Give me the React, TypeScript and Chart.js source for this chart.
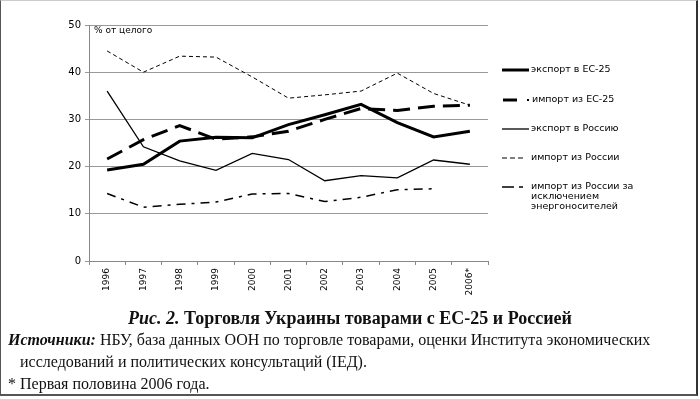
import React, { useEffect, useRef } from "react";
import { Chart, registerables } from "chart.js";

Chart.register(...registerables);

const years = ["1996", "1997", "1998", "1999", "2000", "2001", "2002", "2003", "2004", "2005", "2006*"];
const exportEU = [19.3, 20.5, 25.4, 26.2, 26.1, 28.9, 31.0, 33.2, 29.3, 26.3, 27.5];
const importEU = [21.6, 25.7, 28.7, 25.8, 26.3, 27.5, 30.0, 32.3, 31.9, 32.8, 33.0];
const exportRU = [36.0, 24.2, 21.2, 19.2, 22.8, 21.5, 17.0, 18.1, 17.6, 21.4, 20.5];
const importRU = [44.5, 40.0, 43.4, 43.2, 39.0, 34.5, 35.2, 36.0, 39.8, 35.5, 33.0];
const importRUexEnergy = [14.3, 11.4, 12.0, 12.5, 14.2, 14.3, 12.6, 13.5, 15.1, 15.3, null];

const seriesNames = [
  ["экспорт в ЕС-25"],
  ["импорт из ЕС-25"],
  ["экспорт в Россию"],
  ["импорт из России"],
  ["импорт из России за", "исключением", "энергоносителей"],
];
const unitLabel = "% от целого";

const FONT = "'DejaVu Sans', Verdana, sans-serif";

const styles = [
  { width: 3, dash: [] as number[] },
  { width: 3, dash: [17, 8] },
  { width: 1.3, dash: [] as number[] },
  { width: 1, dash: [4, 3] },
  { width: 1.5, dash: [9, 6, 3, 6] },
];

const legendPlugin = {
  id: "customLegend",
  afterDraw(chart: any) {
    const ctx = chart.ctx;
    ctx.save();
    ctx.fillStyle = "#000";
    ctx.font = `9px ${FONT}`;
    ctx.textBaseline = "middle";
    ctx.textAlign = "left";
    ctx.fillText(unitLabel, chart.chartArea.left + 5, chart.chartArea.top + 6);
    ctx.font = `9.5px ${FONT}`;
    const ys = [70, 100, 129, 158, 187];
    seriesNames.forEach((lines, i) => {
      const y = ys[i];
      const st = styles[i];
      ctx.strokeStyle = "#000";
      ctx.lineWidth = st.width;
      if (i === 1) {
        ctx.setLineDash([]);
        ctx.beginPath();
        ctx.moveTo(503, y);
        ctx.lineTo(517, y);
        ctx.stroke();
        ctx.fillStyle = "#000";
        ctx.fillRect(527, y - 1, 2, 2);
      } else if (i === 4) {
        ctx.setLineDash([]);
        ctx.beginPath();
        ctx.moveTo(502, y);
        ctx.lineTo(514, y);
        ctx.moveTo(519, y);
        ctx.lineTo(523, y);
        ctx.stroke();
      } else if (i === 3) {
        ctx.setLineDash([5, 3]);
        ctx.beginPath();
        ctx.moveTo(502, y);
        ctx.lineTo(526, y);
        ctx.stroke();
      } else {
        ctx.setLineDash([]);
        ctx.beginPath();
        ctx.moveTo(502, y);
        ctx.lineTo(529, y);
        ctx.stroke();
      }
      ctx.fillStyle = "#000";
      lines.forEach((t, k) => {
        ctx.fillText(t, i === 1 ? 532 : 531, y + k * 10);
      });
    });
    ctx.restore();
  },
};

export default function App() {
  const ref = useRef<HTMLCanvasElement | null>(null);

  useEffect(() => {
    if (!ref.current) return;
    const all = [exportEU, importEU, exportRU, importRU, importRUexEnergy];
    const chart = new Chart(ref.current, {
      type: "line",
      data: {
        labels: years,
        datasets: all.map((d, i) => ({
          label: seriesNames[i].join(" "),
          data: d,
          borderColor: "#000",
          borderWidth: styles[i].width,
          borderDash: styles[i].dash,
          pointRadius: 0,
          tension: 0,
          fill: false,
          spanGaps: false,
        })),
      },
      options: {
        animation: false,
        responsive: false,
        layout: { padding: { left: 0, top: 25, right: 212, bottom: 0 } },
        plugins: { legend: { display: false }, tooltip: { enabled: false } },
        scales: {
          x: {
            offset: true,
            grid: {
              offset: true,
              drawOnChartArea: false,
              drawTicks: true,
              tickLength: 4,
              color: "#888",
            },
            border: { color: "#888", width: 1 },
            ticks: {
              minRotation: 90,
              maxRotation: 90,
              padding: 3,
              color: "#000",
              font: { family: FONT, size: 9 },
            },
            afterFit(scale: any) {
              scale.height = 39;
            },
          },
          y: {
            min: 0,
            max: 50,
            ticks: {
              stepSize: 10,
              padding: 4,
              color: "#000",
              font: { family: FONT, size: 10 },
            },
            grid: { color: "#999", lineWidth: 1, tickLength: 4, drawTicks: true },
            border: { color: "#888", width: 1 },
            afterFit(scale: any) {
              scale.width = 89;
            },
          },
        },
      },
      plugins: [legendPlugin],
    });
    return () => chart.destroy();
  }, []);

  const serif = "'Liberation Serif', 'Times New Roman', serif";
  return (
    <div style={{ position: "fixed", left: 0, top: 0, width: 700, height: 399, background: "#fff", overflow: "hidden" }}>
      <canvas ref={ref} width={700} height={300} style={{ position: "absolute", left: 0, top: 0, width: 700, height: 300 }} />
      <div
        style={{
          position: "absolute",
          left: 0,
          top: 0,
          width: 698,
          height: 396,
          boxSizing: "border-box",
          borderLeft: "1px solid #555",
          borderTop: "1px solid #ccc",
          borderRight: "2px solid #333",
          borderBottom: "2px solid #555",
          pointerEvents: "none",
        }}
      />
      <div
        style={{
          position: "absolute",
          left: 0,
          width: 700,
          top: 306,
          textAlign: "center",
          fontFamily: serif,
          fontSize: 18,
          fontWeight: "bold",
          color: "#111",
          whiteSpace: "nowrap",
          lineHeight: "24px",
        }}
      >
        <i>Рис. 2.</i> Торговля Украины товарами с ЕС-25 и Россией
      </div>
      <div
        style={{
          position: "absolute",
          left: 8,
          top: 329,
          fontFamily: serif,
          fontSize: 16,
          color: "#111",
          whiteSpace: "nowrap",
          lineHeight: "22px",
        }}
      >
        <div>
          <b>
            <i>Источники:</i>
          </b>{" "}
          НБУ, база данных ООН по торговле товарами, оценки Института экономических
        </div>
        <div style={{ paddingLeft: 12 }}>исследований и политических консультаций (IЕД).</div>
        <div>* Первая половина 2006 года.</div>
      </div>
    </div>
  );
}
